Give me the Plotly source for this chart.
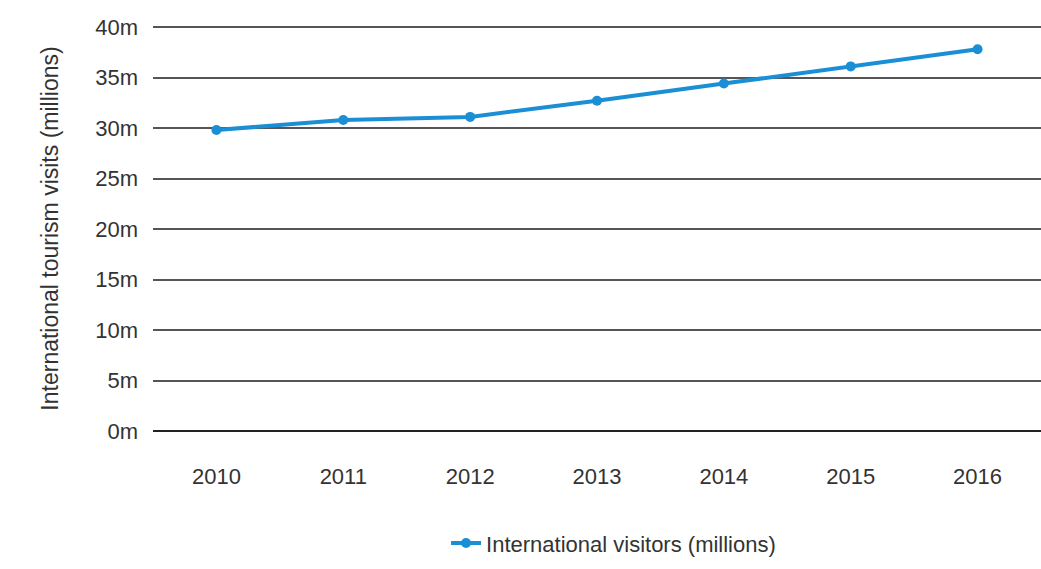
import plotly.graph_objects as go

years = ["2010", "2011", "2012", "2013", "2014", "2015", "2016"]
visitors = [29.8, 30.8, 31.1, 32.7, 34.4, 36.1, 37.8]
y_ticks = [0, 5, 10, 15, 20, 25, 30, 35, 40]
y_tick_labels = [f"{v}m" for v in y_ticks]

fig = go.Figure()
fig.add_trace(go.Scatter(
    x=years, y=visitors, mode="lines+markers",
    name="International visitors (millions)",
    line=dict(color="#1b8fd5", width=4),
    marker=dict(color="#1b8fd5", size=10),
    cliponaxis=False,
))

fig.update_layout(
    width=1041, height=569,
    margin=dict(l=153, r=0, t=26, b=138, autoexpand=False),
    paper_bgcolor="white", plot_bgcolor="white",
    font=dict(family="Liberation Sans, Arial, sans-serif", size=22, color="#333333"),
    showlegend=True,
    legend=dict(orientation="h", x=0.33, xanchor="left", y=-0.277, yanchor="middle",
                font=dict(size=22, color="#333333")),
    xaxis=dict(type="category", range=[-0.5, 6.5], showgrid=False, showline=False,
               zeroline=False, ticks="", ticklabelstandoff=30,
               tickfont=dict(size=22, color="#333333")),
    yaxis=dict(range=[0, 40.1], tickvals=y_ticks, ticktext=y_tick_labels,
               showgrid=True, gridcolor="#555555", gridwidth=1.5,
               zeroline=True, zerolinecolor="#222222", zerolinewidth=2,
               showline=False, ticks="", ticklabelstandoff=14,
               tickfont=dict(size=22, color="#333333"),
               title=dict(text="International tourism visits (millions)", standoff=30,
                          font=dict(size=23, color="#333333"))),
)

fig.write_html("out.html")
